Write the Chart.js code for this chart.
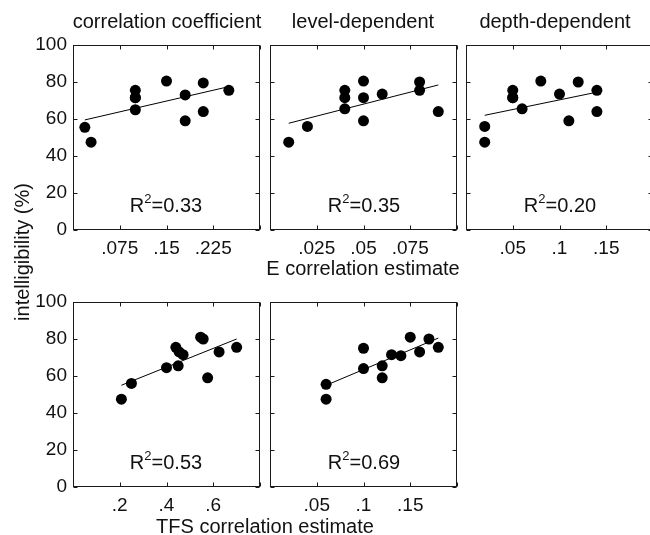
<!DOCTYPE html>
<html>
<head>
<meta charset="utf-8">
<script src="https://cdn.jsdelivr.net/npm/chart.js@4"></script>
<style>
  html, body { margin:0; padding:0; background:#fff; width:650px; height:535px; overflow:hidden; }
  canvas { position:absolute; left:0; top:0; }
  .t { position:absolute; font-family:"Liberation Sans", Arial, sans-serif; font-size:20px; line-height:24px; color:#111; white-space:nowrap; text-align:center; }
  .r2 .s { font-size:13px; position:relative; top:-9px; vertical-align:baseline; }
</style>
</head>
<body>
<canvas id="c1" width="660" height="535"></canvas>
<canvas id="c2" width="660" height="535"></canvas>
<canvas id="c3" width="660" height="535"></canvas>
<canvas id="c4" width="660" height="535"></canvas>
<canvas id="c5" width="660" height="535"></canvas>

<div class="t" style="left:17px;width:300px;top:9px;">correlation coefficient</div>
<div class="t" style="left:213px;width:300px;top:9px;">level-dependent</div>
<div class="t" style="left:405px;width:300px;top:9px;">depth-dependent</div>
<div class="t" style="left:213px;width:300px;top:256px;">E correlation estimate</div>
<div class="t" style="left:115px;width:300px;top:514px;">TFS correlation estimate</div>
<div class="t" style="left:-128px;width:300px;top:240px;transform:rotate(-90deg);transform-origin:150px 12px;">intelligibility (%)</div>

<div class="t r2" style="left:66px;width:200px;top:193px;">R<span class="s">2</span>=0.33</div>
<div class="t r2" style="left:264px;width:200px;top:193px;">R<span class="s">2</span>=0.35</div>
<div class="t r2" style="left:460px;width:200px;top:193px;">R<span class="s">2</span>=0.20</div>
<div class="t r2" style="left:66px;width:200px;top:450px;">R<span class="s">2</span>=0.53</div>
<div class="t r2" style="left:264px;width:200px;top:450px;">R<span class="s">2</span>=0.69</div>

<script>
// ---- Data ----
// Top row: E correlation estimate
const ccX   = [0.019, 0.029, 0.10, 0.10, 0.10, 0.10, 0.15, 0.18, 0.18, 0.209, 0.209, 0.25];
const ccY   = [55.5, 47.5, 75.5, 71.5, 71.5, 65, 80.5, 73, 59, 79.5, 64, 75.5];
const ccFitX = [0.019, 0.25];
const ccFitY = [59.5, 77.5];

const ldX   = [0.01, 0.02, 0.04, 0.04, 0.04, 0.05, 0.05, 0.05, 0.06, 0.08, 0.08, 0.09];
const ldY   = [47.5, 56, 75.5, 71.5, 65.5, 80.5, 71.5, 59, 73.5, 80, 75.5, 64];
const ldFitX = [0.01, 0.09];
const ldFitY = [57.7, 78.4];

const ddX   = [0.02, 0.02, 0.05, 0.05, 0.05, 0.06, 0.08, 0.10, 0.11, 0.12, 0.14, 0.14];
const ddY   = [56, 47.5, 75.5, 71.5, 71.5, 65.5, 80.5, 73.5, 59, 80, 75.5, 64];
const ddFitX = [0.02, 0.14];
const ddFitY = [62, 74.5];

// Bottom row: TFS correlation estimate
const tfsCcX = [0.207, 0.25, 0.40, 0.45, 0.44, 0.454, 0.471, 0.546, 0.557, 0.625, 0.576, 0.70];
const tfsCcY = [47.5, 56, 64.5, 65.5, 75.5, 73, 71.5, 81, 80, 73, 59, 75.5];
const tfsCcFitX = [0.207, 0.70];
const tfsCcFitY = [55, 80];

const tfsLdX = [0.06, 0.06, 0.10, 0.10, 0.12, 0.12, 0.13, 0.14, 0.15, 0.16, 0.17, 0.18];
const tfsLdY = [47.5, 55.5, 75, 64, 65.5, 59, 71.5, 71, 81, 73, 80, 75.5];
const tfsLdFitX = [0.06, 0.18];
const tfsLdFitY = [55, 80.5];

// Ticks
const yTicks  = [0, 20, 40, 60, 80, 100];
const yLabels = ['0', '20', '40', '60', '80', '100'];
const ccTicks  = [0, 0.075, 0.15, 0.225, 0.3];
const ccLabels = ['', '.075', '.15', '.225', ''];
const ldTicks  = [0, 0.025, 0.05, 0.075, 0.1];
const ldLabels = ['', '.025', '.05', '.075', ''];
const ddTicks  = [0, 0.05, 0.1, 0.15, 0.2];
const ddLabels = ['', '.05', '.1', '.15', ''];
const tfsCcTicks  = [0, 0.2, 0.4, 0.6, 0.8];
const tfsCcLabels = ['', '.2', '.4', '.6', ''];
const tfsLdTicks  = [0, 0.05, 0.1, 0.15, 0.2];
const tfsLdLabels = ['', '.05', '.1', '.15', ''];

// ---- Rendering ----
const FONT = '"Liberation Sans", Arial, sans-serif';
const CW = 660, CH = 535, BOXW = 187, BOXH = 185, YW = 45, XH = 40;

const boxPlugin = {
  id: 'box',
  afterDatasetsDraw(chart) {
    const { ctx, chartArea: a, scales: { x, y } } = chart;
    ctx.save();
    ctx.strokeStyle = '#1a1a1a';
    ctx.lineWidth = 1;
    const L = Math.round(a.left) + 0.5, R = Math.round(a.right) - 0.5;
    const T = Math.round(a.top) + 0.5, B = Math.round(a.bottom) - 0.5;
    ctx.strokeRect(L, T, R - L, B - T);
    ctx.beginPath();
    x.ticks.forEach(t => {
      const px = Math.round(x.getPixelForValue(t.value)) + 0.5;
      ctx.moveTo(px, B); ctx.lineTo(px, B - 4);
      ctx.moveTo(px, T); ctx.lineTo(px, T + 4);
    });
    y.ticks.forEach(t => {
      const py = Math.round(y.getPixelForValue(t.value)) + 0.5;
      ctx.moveTo(L, py); ctx.lineTo(L + 4, py);
      ctx.moveTo(R, py); ctx.lineTo(R - 4, py);
    });
    ctx.stroke();
    ctx.restore();
  }
};

function panel(id, left, top, xs, ys, fx, fy, xMax, xTicks, xLabels, showY) {
  const yw = showY ? YW : 0;
  new Chart(document.getElementById(id), {
    type: 'scatter',
    data: {
      datasets: [
        {
          data: xs.map((v, i) => ({ x: v, y: ys[i] })),
          backgroundColor: '#000', borderWidth: 0,
          pointRadius: 5.5, pointHoverRadius: 5.5
        },
        {
          type: 'line',
          data: fx.map((v, i) => ({ x: v, y: fy[i] })),
          borderColor: '#000', borderWidth: 1, pointRadius: 0, showLine: true, fill: false
        }
      ]
    },
    options: {
      responsive: false, animation: false, devicePixelRatio: 1, events: [],
      layout: { padding: { left: left - yw, top: top, right: CW - (left + BOXW), bottom: CH - (top + BOXH) - XH } },
      plugins: { legend: { display: false }, tooltip: { enabled: false } },
      scales: {
        x: {
          type: 'linear', position: 'bottom', min: 0, max: xMax,
          grid: { display: false, drawTicks: false }, border: { display: false },
          afterBuildTicks: s => { s.ticks = xTicks.map(v => ({ value: v })); },
          ticks: { autoSkip: false, maxRotation: 0, minRotation: 0, padding: 7, color: '#111',
                   font: { family: FONT, size: 19 }, callback: (v, i) => xLabels[i] },
          afterFit: s => { s.height = XH; s.paddingLeft = 0; s.paddingRight = 0; }
        },
        y: {
          type: 'linear', position: 'left', min: 0, max: 100,
          grid: { display: false, drawTicks: false }, border: { display: false },
          afterBuildTicks: s => { s.ticks = yTicks.map(v => ({ value: v })); },
          ticks: { display: showY, autoSkip: false, padding: 6, color: '#111',
                   font: { family: FONT, size: 19 }, callback: (v, i) => yLabels[i] },
          afterFit: s => { s.width = yw; s.paddingTop = 0; s.paddingBottom = 0; }
        }
      }
    },
    plugins: [boxPlugin]
  });
}

panel('c1', 73, 45, ccX, ccY, ccFitX, ccFitY, 0.3, ccTicks, ccLabels, true);
panel('c2', 270, 45, ldX, ldY, ldFitX, ldFitY, 0.1, ldTicks, ldLabels, false);
panel('c3', 466, 45, ddX, ddY, ddFitX, ddFitY, 0.2, ddTicks, ddLabels, false);
panel('c4', 73, 302, tfsCcX, tfsCcY, tfsCcFitX, tfsCcFitY, 0.8, tfsCcTicks, tfsCcLabels, true);
panel('c5', 270, 302, tfsLdX, tfsLdY, tfsLdFitX, tfsLdFitY, 0.2, tfsLdTicks, tfsLdLabels, false);
</script>
</body>
</html>
